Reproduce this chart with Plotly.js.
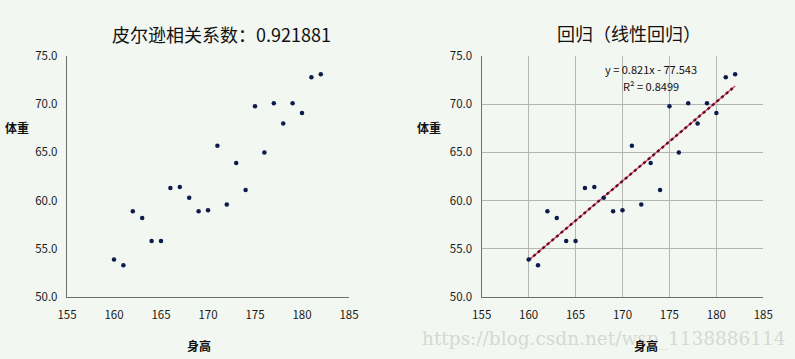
<!DOCTYPE html>
<html>
<head>
<meta charset="utf-8">
<script src="https://cdn.plot.ly/plotly-3.0.1.min.js"></script>
<style>
  html, body { margin: 0; padding: 0; background: #f3f7f1; }
  #chart { width: 795px; height: 359px; }
</style>
</head>
<body>
<div id="chart"></div>
<script>
// 身高 / 体重 samples
const heights = [160, 161, 162, 163, 164, 165, 166, 167, 168, 169, 170, 171,
                 172, 173, 174, 175, 176, 177, 178, 179, 180, 181, 182];
const weights = [53.9, 53.3, 58.9, 58.2, 55.8, 55.8, 61.3, 61.4, 60.3, 58.9, 59.0, 65.7,
                 59.6, 63.9, 61.1, 69.8, 65.0, 70.1, 68.0, 70.1, 69.1, 72.8, 73.1];

// Linear fit reported on the chart
const slope = 0.821;
const intercept = -77.543;
const rSquared = 0.8499;
const pearson = 0.921881;

const xTicks = [155, 160, 165, 170, 175, 180, 185];
const yTicks = [50, 55, 60, 65, 70, 75];

const W = 795, H = 359;
const px = v => v / W;
const py = v => 1 - v / H;

const font = "'Noto Sans CJK SC', 'Noto Sans', sans-serif";
const dotColor = '#0d1b4c';

const fitX = [Math.min(...heights), Math.max(...heights)];
const fitY = fitX.map(x => slope * x + intercept);

const traces = [
  { x: heights, y: weights, xaxis: 'x', yaxis: 'y', type: 'scatter', mode: 'markers',
    marker: { size: 4.5, color: dotColor }, hoverinfo: 'x+y' },
  // trendline: thin red line under dark dots
  { x: fitX, y: fitY, xaxis: 'x2', yaxis: 'y2', type: 'scatter', mode: 'lines',
    line: { color: '#e0405e', width: 1.3 }, hoverinfo: 'skip' },
  { x: fitX, y: fitY, xaxis: 'x2', yaxis: 'y2', type: 'scatter', mode: 'lines',
    line: { color: '#5c0c26', width: 2.4, dash: 'dot' }, hoverinfo: 'skip' },
  { x: heights, y: weights, xaxis: 'x2', yaxis: 'y2', type: 'scatter', mode: 'markers',
    marker: { size: 4.5, color: dotColor }, hoverinfo: 'x+y' }
];

const yDom = [py(297), py(56)];

function xAxis(domain, grid, anchor) {
  return {
    domain: domain, anchor: anchor, range: [155, 185],
    tickmode: 'array', tickvals: xTicks, ticktext: xTicks.map(String),
    showgrid: grid, gridcolor: '#b4b6b2', gridwidth: 1,
    showline: true, linecolor: '#6e6e6e', linewidth: 1.2,
    zeroline: false, ticks: '', ticklabelstandoff: 7,
    tickfont: { family: font, size: 11.5, color: '#1a1a1a' }
  };
}
function yAxis(grid, anchor) {
  return {
    domain: yDom, anchor: anchor, range: [50, 75],
    tickmode: 'array', tickvals: yTicks, ticktext: yTicks.map(v => v.toFixed(1)),
    showgrid: grid, gridcolor: '#b4b6b2', gridwidth: 1,
    showline: true, linecolor: '#6e6e6e', linewidth: 1.2,
    zeroline: false, ticks: '', ticklabelstandoff: 6,
    tickfont: { family: font, size: 11.5, color: '#1a1a1a' }
  };
}

const ann = (text, x, y, size, opts) => Object.assign({
  text: text, xref: 'paper', yref: 'paper', x: px(x), y: py(y),
  xanchor: 'center', yanchor: 'middle', showarrow: false,
  font: { family: font, size: size, color: '#111' }
}, opts || {});

const layout = {
  width: W, height: H,
  margin: { l: 0, r: 0, t: 0, b: 0 },
  paper_bgcolor: '#f3f7f1', plot_bgcolor: '#f3f7f1',
  showlegend: false,
  xaxis: xAxis([px(67), px(349)], false, 'y'),
  yaxis: yAxis(false, 'x'),
  xaxis2: xAxis([px(481.7), px(763.3)], true, 'y2'),
  yaxis2: yAxis(true, 'x2'),
  annotations: [
    ann('https://blog.csdn.net/wsp_1138886114', 604, 339, 18.5,
        { font: { family: "'DejaVu Serif', serif", size: 18.5, color: '#d5d9d4' } }),
    ann('皮尔逊相关系数：' + pearson.toFixed(6), 221.5, 34, 18),
    ann('回归（线性回归）', 629, 33, 18),
    ann('<b>体重</b>', 16.5, 127, 12),
    ann('<b>体重</b>', 428.7, 128, 12),
    ann('<b>身高</b>', 198.5, 345, 12),
    ann('<b>身高</b>', 646, 345.5, 12),
    ann('y = ' + slope + 'x - ' + Math.abs(intercept), 650.5, 69, 11),
    ann('R² = ' + rSquared, 651, 86, 11)
  ]
};

Plotly.newPlot('chart', traces, layout, { staticPlot: true, displayModeBar: false });
</script>
</body>
</html>
